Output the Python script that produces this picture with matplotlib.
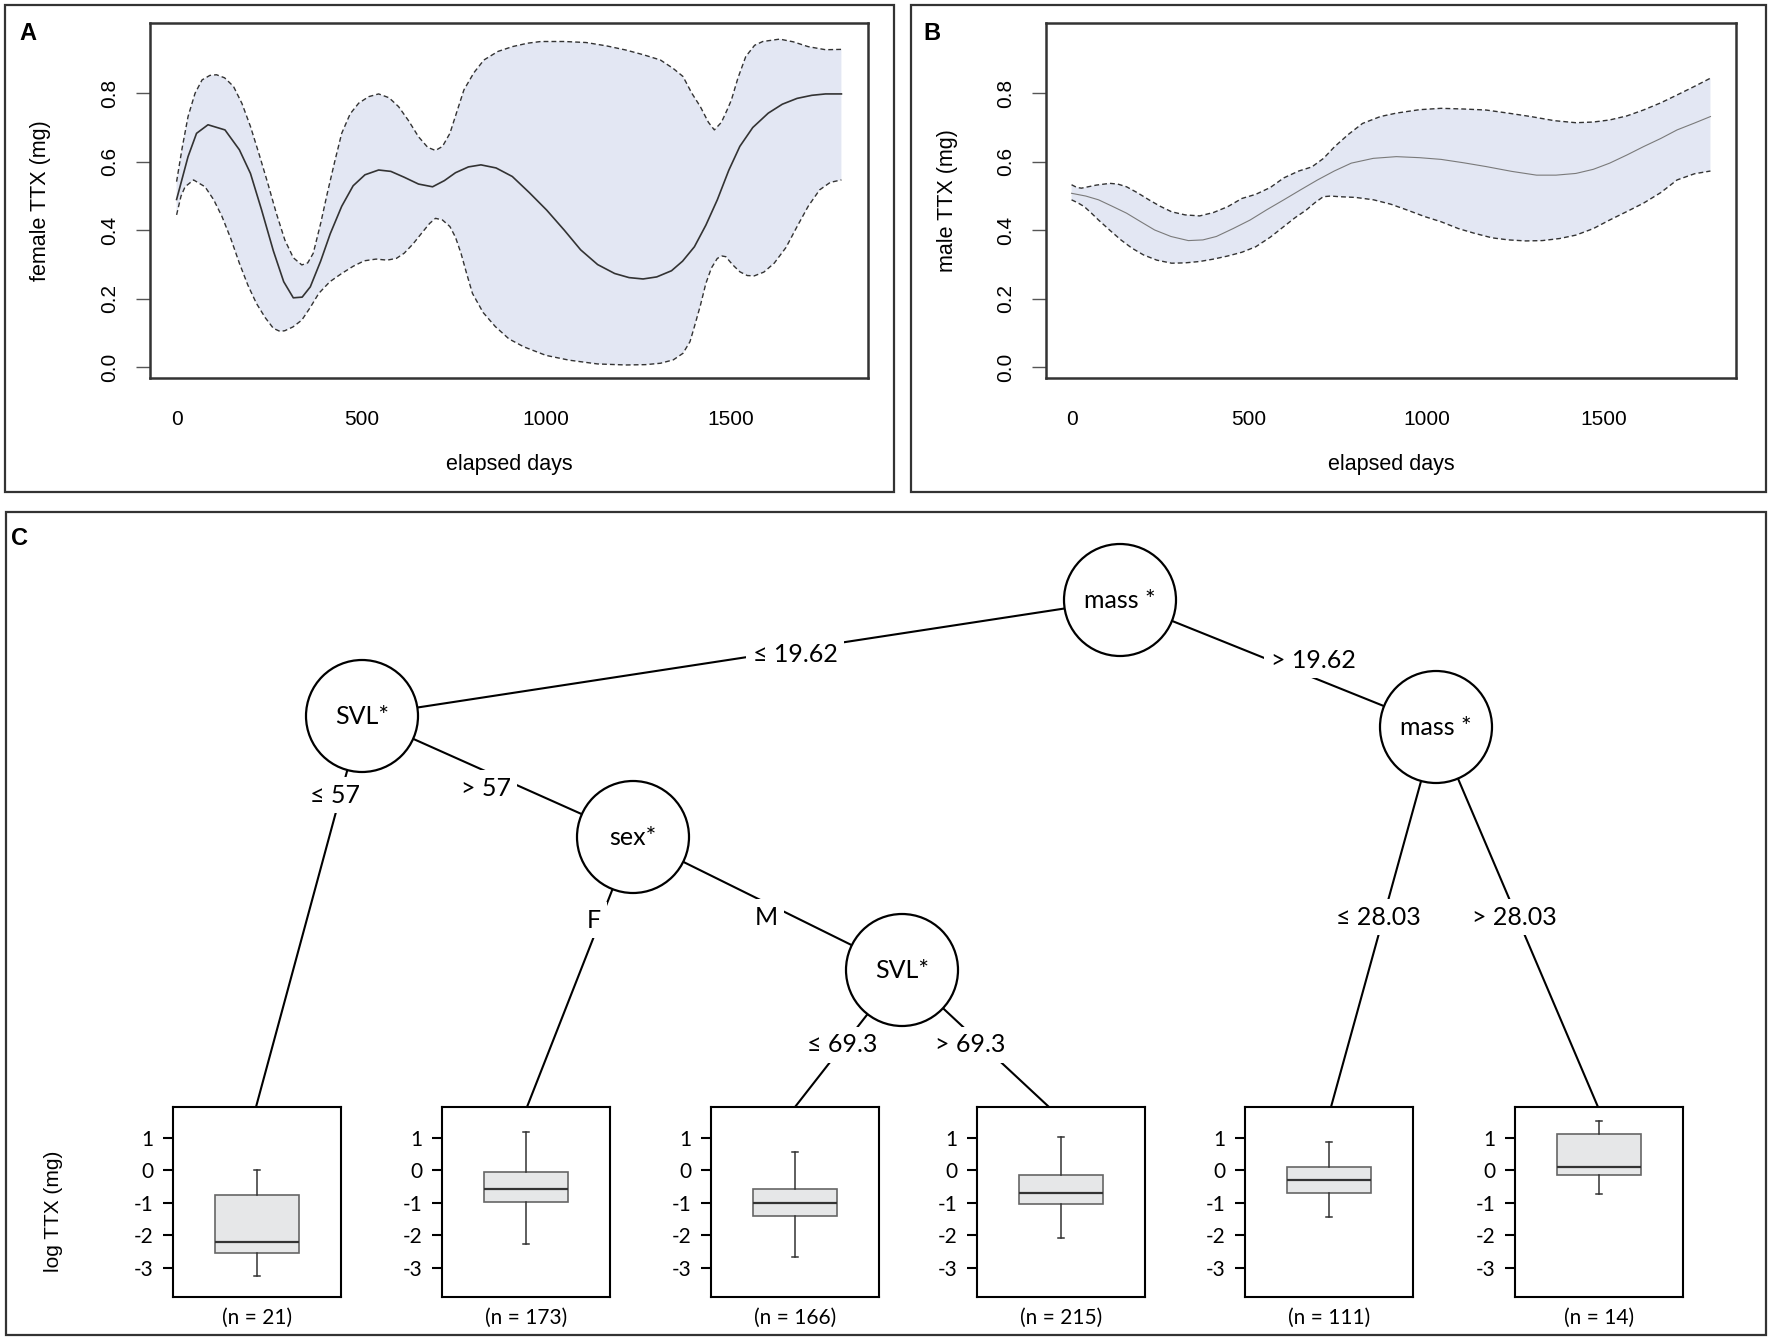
import numpy as np
import matplotlib
matplotlib.use('Agg')
import matplotlib.pyplot as plt
from matplotlib.patches import Rectangle, Circle

plt.rcParams['font.family'] = ['Liberation Sans', 'DejaVu Sans']

# ---------------- data: panel A (female) ----------------
fem_mean_x = [0, 31, 54, 85, 131, 170, 200, 230, 262, 290, 316, 340, 362, 390, 416, 447, 478, 510, 547,
              580, 616, 655, 693, 725, 755, 790, 824, 865, 909, 955, 1002, 1050, 1094, 1140, 1186, 1225,
              1263, 1300, 1340, 1370, 1402, 1433, 1464, 1495, 1525, 1560, 1602, 1640, 1680, 1720, 1757, 1800]
fem_mean_y = [0.49, 0.615, 0.683, 0.708, 0.693, 0.635, 0.566, 0.46, 0.34, 0.25, 0.203, 0.205, 0.235, 0.31,
              0.39, 0.47, 0.53, 0.562, 0.576, 0.572, 0.555, 0.535, 0.527, 0.545, 0.568, 0.585, 0.591, 0.582,
              0.557, 0.51, 0.459, 0.40, 0.343, 0.30, 0.274, 0.262, 0.258, 0.264, 0.282, 0.31, 0.352, 0.415,
              0.489, 0.575, 0.645, 0.70, 0.742, 0.768, 0.785, 0.794, 0.798, 0.798]

fem_up_x = [0, 15, 31, 50, 69, 90, 108, 130, 154, 177, 200, 224, 247, 270, 293, 316, 339, 355, 370, 390,
            408, 428, 447, 470, 493, 520, 547, 575, 601, 628, 655, 680, 701, 720, 740, 760, 778, 805, 832,
            870, 909, 950, 986, 1050, 1109, 1165, 1217, 1265, 1310, 1345, 1371, 1395, 1418, 1440, 1456,
            1475, 1490, 1502, 1520, 1541, 1565, 1587, 1633, 1670, 1710, 1757, 1800]
fem_up_y = [0.542, 0.64, 0.732, 0.80, 0.839, 0.852, 0.854, 0.845, 0.82, 0.77, 0.703, 0.62, 0.537, 0.45,
            0.372, 0.32, 0.299, 0.305, 0.333, 0.42, 0.508, 0.60, 0.683, 0.74, 0.771, 0.79, 0.798, 0.787,
            0.761, 0.72, 0.673, 0.642, 0.633, 0.645, 0.683, 0.75, 0.81, 0.86, 0.897, 0.922, 0.936, 0.946,
            0.951, 0.951, 0.948, 0.938, 0.926, 0.912, 0.897, 0.872, 0.849, 0.80, 0.761, 0.715, 0.693,
            0.715, 0.75, 0.78, 0.845, 0.907, 0.94, 0.951, 0.958, 0.95, 0.936, 0.927, 0.928]

fem_lo_x = [0, 12, 23, 46, 77, 100, 123, 147, 170, 193, 216, 240, 262, 280, 293, 315, 339, 362, 385, 415,
            447, 478, 508, 540, 570, 595, 616, 640, 663, 685, 701, 720, 740, 755, 770, 785, 801, 830, 863,
            900, 940, 1000, 1063, 1140, 1217, 1270, 1310, 1345, 1371, 1390, 1402, 1418, 1433, 1448, 1464,
            1477, 1487, 1505, 1525, 1545, 1564, 1590, 1618, 1650, 1680, 1710, 1741, 1770, 1800]
fem_lo_y = [0.445, 0.50, 0.527, 0.547, 0.527, 0.49, 0.44, 0.375, 0.304, 0.24, 0.187, 0.145, 0.114, 0.105,
            0.107, 0.118, 0.138, 0.175, 0.216, 0.25, 0.274, 0.295, 0.311, 0.316, 0.313, 0.318, 0.333, 0.36,
            0.391, 0.42, 0.435, 0.43, 0.411, 0.38, 0.333, 0.275, 0.216, 0.16, 0.119, 0.083, 0.06, 0.035,
            0.021, 0.01, 0.007, 0.008, 0.012, 0.022, 0.041, 0.075, 0.119, 0.18, 0.245, 0.29, 0.318, 0.325,
            0.323, 0.30, 0.279, 0.268, 0.267, 0.278, 0.304, 0.35, 0.411, 0.47, 0.518, 0.54, 0.547]

# ---------------- data: panel B (male) ----------------
mal_mean_x = [0, 40, 76, 115, 155, 195, 234, 280, 329, 370, 408, 455, 503, 550, 598, 645, 693, 740, 788,
              850, 915, 980, 1041, 1105, 1168, 1240, 1310, 1365, 1421, 1470, 1516, 1565, 1611, 1660, 1706,
              1755, 1800]
mal_mean_y = [0.508, 0.50, 0.489, 0.47, 0.45, 0.425, 0.401, 0.382, 0.37, 0.372, 0.382, 0.405, 0.43, 0.46,
              0.489, 0.518, 0.547, 0.573, 0.596, 0.610, 0.615, 0.612, 0.607, 0.597, 0.586, 0.572, 0.561,
              0.561, 0.566, 0.578, 0.596, 0.62, 0.644, 0.668, 0.693, 0.713, 0.732]

mal_up_x = [0, 15, 28, 70, 108, 130, 155, 185, 218, 250, 282, 320, 361, 400, 440, 480, 519, 560, 598, 640,
            677, 710, 741, 780, 820, 870, 915, 980, 1041, 1105, 1168, 1230, 1294, 1360, 1421, 1470, 1516,
            1565, 1611, 1660, 1706, 1755, 1800]
mal_up_y = [0.533, 0.525, 0.523, 0.532, 0.537, 0.535, 0.527, 0.51, 0.489, 0.47, 0.454, 0.445, 0.442, 0.452,
            0.469, 0.493, 0.505, 0.525, 0.553, 0.573, 0.585, 0.610, 0.644, 0.68, 0.712, 0.732, 0.742, 0.752,
            0.756, 0.754, 0.751, 0.742, 0.732, 0.72, 0.714, 0.716, 0.722, 0.734, 0.751, 0.772, 0.795, 0.82,
            0.844]

mal_lo_x = [0, 18, 36, 56, 76, 108, 139, 170, 203, 240, 282, 320, 361, 400, 440, 480, 519, 560, 598, 630,
            661, 685, 709, 730, 756, 800, 851, 900, 946, 995, 1041, 1090, 1136, 1185, 1231, 1280, 1326,
            1375, 1421, 1470, 1516, 1565, 1611, 1660, 1706, 1755, 1800]
mal_lo_y = [0.489, 0.48, 0.469, 0.45, 0.43, 0.40, 0.372, 0.348, 0.328, 0.313, 0.304, 0.305, 0.309, 0.316,
            0.325, 0.336, 0.352, 0.38, 0.411, 0.437, 0.459, 0.48, 0.498, 0.50, 0.498, 0.496, 0.489, 0.476,
            0.459, 0.44, 0.425, 0.405, 0.391, 0.378, 0.372, 0.369, 0.37, 0.376, 0.386, 0.405, 0.43, 0.455,
            0.479, 0.51, 0.547, 0.565, 0.573]

# ---------------- data: panel C (tree leaves) ----------------
leaf_n = [21, 173, 166, 215, 111, 14]
leaf_whislo = [-3.25, -2.27, -2.66, -2.07, -1.45, -0.73]
leaf_q1 = [-2.55, -0.97, -1.41, -1.04, -0.69, -0.15]
leaf_med = [-2.20, -0.56, -1.00, -0.70, -0.31, 0.10]
leaf_q3 = [-0.75, -0.05, -0.57, -0.14, 0.10, 1.13]
leaf_whishi = [0.0, 1.18, 0.56, 1.03, 0.86, 1.53]

node_labels = ['mass *', 'SVL*', 'sex*', 'mass *', 'SVL*']
edge_labels = ['\u2264 19.62', '> 19.62', '\u2264 57', '> 57', 'F', 'M',
               '\u2264 69.3', '> 69.3', '\u2264 28.03', '> 28.03']

W, H = 1772, 1341
fig = plt.figure(figsize=(W / 100, H / 100), dpi=100)


def px_rect(left, top, right, bottom):
    return [left / W, 1 - bottom / H, (right - left) / W, (bottom - top) / H]


# overlay axes in pixel units for frames and tree
ov = fig.add_axes([0, 0, 1, 1])
ov.set_xlim(0, W)
ov.set_ylim(H, 0)
ov.axis('off')

for (l, t, r, b) in [(5, 5, 894, 492), (911, 5, 1766, 492), (6, 512, 1766, 1335)]:
    ov.add_patch(Rectangle((l, t), r - l, b - t, fill=False, ec='#333333', lw=1.6))

ov.text(28, 33, 'A', fontsize=17, fontweight='bold', ha='center', va='center')
ov.text(932, 33, 'B', fontsize=17, fontweight='bold', ha='center', va='center')
ov.text(20, 538, 'C', fontsize=17, fontweight='bold', ha='center', va='center')

fill_col = '#E3E7F3'


def smooth_panel(rect, mx, my, ux, uy, lx, ly, ylabel, mean_col, mean_lw, lab_x):
    ax = fig.add_axes(rect)
    ax.fill(np.concatenate([ux, lx[::-1]]), np.concatenate([uy, ly[::-1]]),
            color=fill_col, lw=0, zorder=1)
    ax.plot(ux, uy, color='#333333', lw=1.0, dashes=(3.5, 2.2), zorder=2)
    ax.plot(lx, ly, color='#333333', lw=1.0, dashes=(3.5, 2.2), zorder=2)
    ax.plot(mx, my, color=mean_col, lw=mean_lw, zorder=3, solid_joinstyle='round')
    ax.set_xlim(-72, 1872)
    ax.set_ylim(-0.031, 1.005)
    ax.set_xticks([0, 500, 1000, 1500])
    ax.set_yticks([0.0, 0.2, 0.4, 0.6, 0.8])
    ax.set_yticklabels(['0.0', '0.2', '0.4', '0.6', '0.8'], rotation=90, va='center')
    ax.tick_params(axis='x', length=0, pad=23, labelsize=15)
    ax.tick_params(axis='y', length=10, width=1.0, color='#555555', pad=12, labelsize=15)
    for s in ax.spines.values():
        s.set_color('#333333')
        s.set_linewidth(1.8)
    ax.set_xlabel('elapsed days', fontsize=15.5)
    ax.xaxis.set_label_coords(0.5, -0.215)
    ax.set_ylabel(ylabel, fontsize=15.5)
    ax.yaxis.set_label_coords(lab_x, 0.5)
    return ax


smooth_panel(px_rect(150, 23, 868, 378), np.array(fem_mean_x), np.array(fem_mean_y),
             np.array(fem_up_x), np.array(fem_up_y), np.array(fem_lo_x), np.array(fem_lo_y),
             'female TTX (mg)', '#333333', 1.2, -0.138)
smooth_panel(px_rect(1046, 23, 1736, 378), np.array(mal_mean_x), np.array(mal_mean_y),
             np.array(mal_up_x), np.array(mal_up_y), np.array(mal_lo_x), np.array(mal_lo_y),
             'male TTX (mg)', '#7a7a7a', 0.8, -0.128)

# ---------------- tree layout (pixel positions) ----------------
tree_font = ['Lato', 'DejaVu Sans']
node_pos = [(1120, 600), (362, 716), (633, 837), (1436, 727), (902, 970)]
node_r = 56
leaf_left = [173, 442, 711, 977, 1245, 1515]
leaf_top, leaf_bot, leaf_w = 1107, 1297, 168
leaf_hit = [256, 527, 795, 1049, 1331, 1598]

# edges: (from node, to ('n', idx) or ('l', idx), label position)
edges = [
    (0, ('n', 1), (795, 654)),
    (0, ('n', 3), (1313, 660)),
    (1, ('l', 0), (335, 795)),
    (1, ('n', 2), (486, 788)),
    (2, ('l', 1), (594, 920)),
    (2, ('n', 4), (766, 917)),
    (4, ('l', 2), (842, 1045)),
    (4, ('l', 3), (970, 1045)),
    (3, ('l', 4), (1378, 917)),
    (3, ('l', 5), (1514, 917)),
]

for (src, (kind, idx), lpos), lab in zip(edges, edge_labels):
    x0, y0 = node_pos[src]
    if kind == 'n':
        x1, y1 = node_pos[idx]
    else:
        x1, y1 = leaf_hit[idx], leaf_top
    ov.plot([x0, x1], [y0, y1], color='black', lw=1.5, zorder=1)
    ov.text(lpos[0], lpos[1], lab, fontsize=18, family=tree_font, ha='center', va='center',
            zorder=3, bbox=dict(boxstyle='square,pad=0.25', fc='white', ec='none'))

for (x, y), lab in zip(node_pos, node_labels):
    ov.add_patch(Circle((x, y), node_r, fc='white', ec='black', lw=1.6, zorder=2))
    ov.text(x, y, lab, fontsize=18, family=tree_font, ha='center', va='center', zorder=4)

ov.text(54, 1211, 'log TTX (mg)', fontsize=15, rotation=90, ha='center', va='center')

# ---------------- leaf boxplots ----------------
for i in range(len(leaf_n)):
    ax = fig.add_axes(px_rect(leaf_left[i], leaf_top, leaf_left[i] + leaf_w, leaf_bot))
    stats = [dict(med=leaf_med[i], q1=leaf_q1[i], q3=leaf_q3[i],
                  whislo=leaf_whislo[i], whishi=leaf_whishi[i], fliers=[])]
    ax.bxp(stats, positions=[1], widths=1.0, patch_artist=True, showfliers=False,
           boxprops=dict(facecolor='#e6e7e8', edgecolor='#666666', lw=1.2),
           medianprops=dict(color='#333333', lw=1.6),
           whiskerprops=dict(color='#333333', lw=1.1),
           capprops=dict(color='#333333', lw=1.1), capwidths=0.08)
    ax.set_xlim(0, 2)
    ax.set_ylim(-3.9, 1.95)
    ax.set_xticks([])
    ax.set_yticks([1, 0, -1, -2, -3])
    ax.set_yticklabels(['1', '0', '-1', '-2', '-3'], family=tree_font)
    ax.tick_params(axis='y', length=7, width=1.5, pad=7, labelsize=15)
    for s in ax.spines.values():
        s.set_linewidth(1.5)
        s.set_color('black')
    ax.text(0.5, -0.11, '(n = %d)' % leaf_n[i], transform=ax.transAxes, ha='center', va='center',
            fontsize=15, family=tree_font)

fig.savefig('out.png', dpi=100)
